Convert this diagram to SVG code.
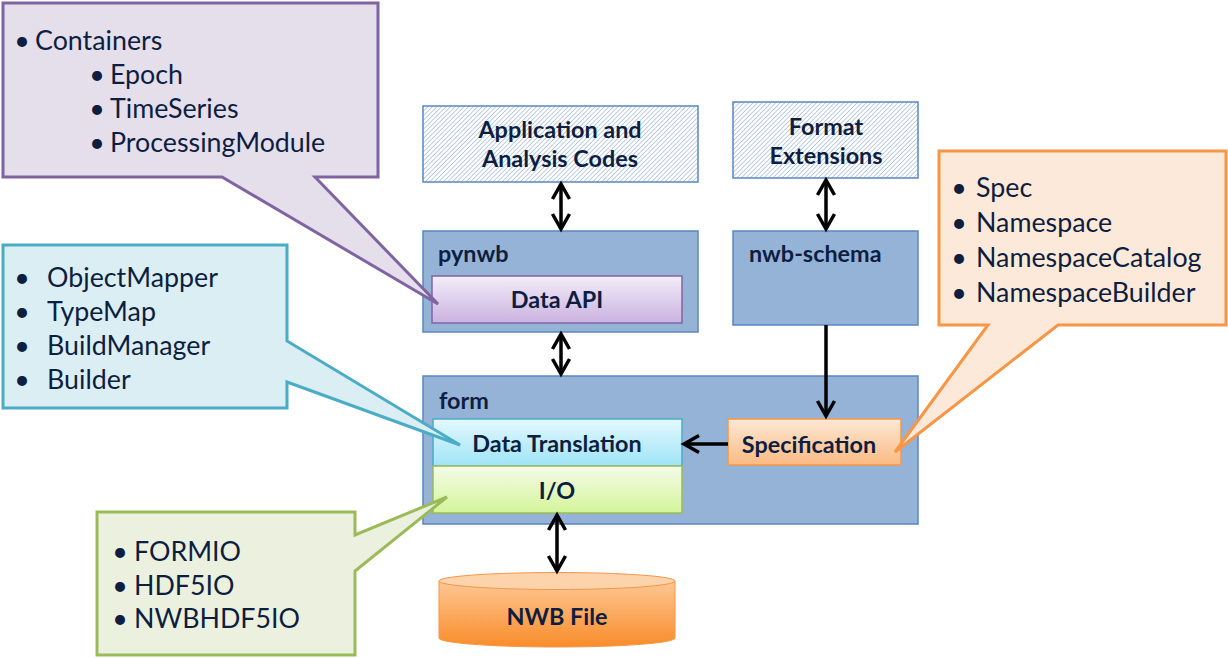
<svg xmlns="http://www.w3.org/2000/svg" width="1228" height="658" viewBox="0 0 1228 658">
<style>
.t{font-family:Lato,"Open Sans","Liberation Sans",sans-serif;fill:#0e1e40;font-size:26.8px}
.b{font-family:Lato,"Open Sans","Liberation Sans",sans-serif;fill:#0e1e40;font-size:23.4px;font-weight:bold}
.c{text-anchor:middle}
.box{fill:#95b3d7;stroke:#5b87c0;stroke-width:1.5}
.hatch{fill:url(#hp);stroke:#5b87c0;stroke-width:1.5}
.arr{stroke:#000;stroke-width:3.5;fill:none}
</style>
<defs>
<pattern id="hp" width="3.2" height="3.2" patternUnits="userSpaceOnUse" patternTransform="rotate(45)">
<rect width="3.2" height="3.2" fill="#fff"/>
<line x1="0" y1="0" x2="0" y2="3.2" stroke="#8aa9d6" stroke-width="1.1"/>
</pattern>
<linearGradient id="gApi" x1="0" y1="0" x2="0" y2="1"><stop offset="0" stop-color="#f3edf9"/><stop offset="1" stop-color="#cab2e0"/></linearGradient>
<linearGradient id="gDt" x1="0" y1="0" x2="0" y2="1"><stop offset="0" stop-color="#e4f9fe"/><stop offset="1" stop-color="#9ee4f7"/></linearGradient>
<linearGradient id="gIo" x1="0" y1="0" x2="0" y2="1"><stop offset="0" stop-color="#f5fbe8"/><stop offset="1" stop-color="#d4f59a"/></linearGradient>
<linearGradient id="gSp" x1="0" y1="0" x2="0" y2="1"><stop offset="0" stop-color="#fde8d6"/><stop offset="1" stop-color="#fbba82"/></linearGradient>
<linearGradient id="gCy" x1="0" y1="0" x2="0" y2="1"><stop offset="0" stop-color="#fdc794"/><stop offset="1" stop-color="#f98c2a"/></linearGradient>
<marker id="ah" viewBox="-20 -12 24 24" refX="0" refY="0" markerWidth="24" markerHeight="24" markerUnits="userSpaceOnUse" orient="auto-start-reverse" overflow="visible">
<path d="M-15,-8.5 L0,0 L-15,8.5" fill="none" stroke="#000" stroke-width="3.5" stroke-linejoin="miter"/>
</marker>
</defs>

<g id="app">
<rect class="hatch" x="423" y="106" width="275" height="76"/>
<text class="b c" x="560" y="138">Application and</text>
<text class="b c" x="560" y="167">Analysis Codes</text>
</g>
<g id="ext">
<rect class="hatch" x="733" y="102" width="185" height="76"/>
<text class="b c" x="826" y="135">Format</text>
<text class="b c" x="826" y="164">Extensions</text>
</g>
<g id="pynwb">
<rect class="box" x="423" y="231" width="275" height="101"/>
<text class="b" x="438" y="262">pynwb</text>
</g>
<g id="dataapi">
<rect x="432" y="276" width="250" height="47" fill="url(#gApi)" stroke="#8064a2" stroke-width="1.5"/>
<text class="b c" x="557" y="308">Data API</text>
</g>
<g id="nwbschema">
<rect class="box" x="733" y="231" width="185" height="94"/>
<text class="b" x="749" y="262">nwb-schema</text>
</g>
<g id="form">
<rect class="box" x="423" y="376" width="495" height="148"/>
<text class="b" x="439" y="409">form</text>
</g>
<g id="datatranslation">
<rect x="433" y="419" width="249" height="47" fill="url(#gDt)" stroke="#4bacc6" stroke-width="1.5"/>
<text class="b c" x="557" y="452">Data Translation</text>
</g>
<g id="io">
<rect x="433" y="466" width="249" height="47" fill="url(#gIo)" stroke="#9bbb59" stroke-width="1.5"/>
<text class="b c" x="557" y="499">I/O</text>
</g>
<g id="specification">
<rect x="728" y="419" width="173" height="46" fill="url(#gSp)" stroke="#f79646" stroke-width="1.5"/>
<text class="b c" x="809" y="453">Specification</text>
</g>
<g id="nwbfile">
<path d="M439,581 V638 A118,9 0 0 0 675,638 V581 Z" fill="url(#gCy)" stroke="#f79646" stroke-width="1"/>
<ellipse cx="557" cy="581" rx="118" ry="8.5" fill="#fdd3ab" stroke="#f79646" stroke-width="1"/>
<text class="b c" x="557" y="625">NWB File</text>
</g>

<g id="connectors">
<line class="arr" x1="561" y1="184" x2="561" y2="229" marker-start="url(#ah)" marker-end="url(#ah)"/>
<line class="arr" x1="826" y1="180" x2="826" y2="229" marker-start="url(#ah)" marker-end="url(#ah)"/>
<line class="arr" x1="561" y1="334" x2="561" y2="374" marker-start="url(#ah)" marker-end="url(#ah)"/>
<line class="arr" x1="826" y1="325" x2="826" y2="416" marker-end="url(#ah)"/>
<line class="arr" x1="728" y1="444" x2="684" y2="444" marker-end="url(#ah)"/>
<line class="arr" x1="557" y1="515" x2="557" y2="571" marker-start="url(#ah)" marker-end="url(#ah)"/>
</g>

<g id="callout-containers">
<path d="M3,3 H378 V177 H315 L438,304 L222,177 H3 Z" fill="#e5dfec" stroke="#8064a2" stroke-width="3"/>
<text class="t c" x="22" y="50">•</text><text class="t" x="35" y="50">Containers</text>
<text class="t c" x="97" y="84">•</text><text class="t" x="110" y="84">Epoch</text>
<text class="t c" x="97" y="118">•</text><text class="t" x="110" y="118">TimeSeries</text>
<text class="t c" x="97" y="152">•</text><text class="t" x="110" y="152">ProcessingModule</text>
</g>
<g id="callout-translation">
<path d="M3,245 H287 V341 L460,445 L287,382 V408 H3 Z" fill="#dbeef4" stroke="#4bacc6" stroke-width="3"/>
<text class="t c" x="22" y="287">•</text><text class="t" x="47" y="287">ObjectMapper</text>
<text class="t c" x="22" y="321">•</text><text class="t" x="47" y="321">TypeMap</text>
<text class="t c" x="22" y="355">•</text><text class="t" x="47" y="355">BuildManager</text>
<text class="t c" x="22" y="389">•</text><text class="t" x="47" y="389">Builder</text>
</g>
<g id="callout-spec">
<path d="M939,151 H1226 V325 H1058 L895,452 L988,325 H939 Z" fill="#fde9d9" stroke="#f79646" stroke-width="3"/>
<text class="t c" x="959" y="197">•</text><text class="t" x="976" y="197">Spec</text>
<text class="t c" x="959" y="232">•</text><text class="t" x="976" y="232">Namespace</text>
<text class="t c" x="959" y="267">•</text><text class="t" x="976" y="267">NamespaceCatalog</text>
<text class="t c" x="959" y="302">•</text><text class="t" x="976" y="302">NamespaceBuilder</text>
</g>
<g id="callout-io">
<path d="M97,512 H355 V535 L447,497 L355,571 V655 H97 Z" fill="#ebf1de" stroke="#9bbb59" stroke-width="3"/>
<text class="t c" x="120" y="561">•</text><text class="t" x="134" y="561">FORMIO</text>
<text class="t c" x="120" y="595">•</text><text class="t" x="134" y="595">HDF5IO</text>
<text class="t c" x="120" y="628">•</text><text class="t" x="134" y="628">NWBHDF5IO</text>
</g>
</svg>
